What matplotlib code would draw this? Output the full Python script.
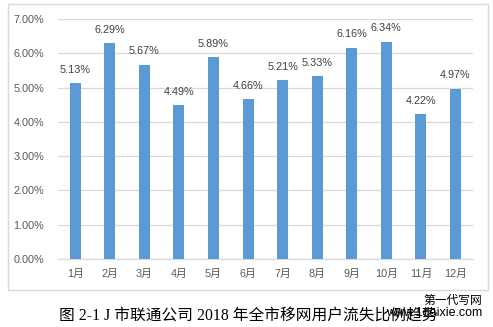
import matplotlib
matplotlib.use("Agg")
import matplotlib.pyplot as plt
from matplotlib.patches import Rectangle
from matplotlib.ticker import FuncFormatter

months = ["1月", "2月", "3月", "4月", "5月", "6月", "7月", "8月", "9月", "10月", "11月", "12月"]
churn_rate = [5.13, 6.29, 5.67, 4.49, 5.89, 4.66, 5.21, 5.33, 6.16, 6.34, 4.22, 4.97]
y_ticks = [0, 1, 2, 3, 4, 5, 6, 7]
caption = "图 2-1 J 市联通公司 2018 年全市移网用户流失比例趋势"

plt.rcParams['font.family'] = ['Liberation Sans', 'Noto Sans CJK SC']

fig = plt.figure(figsize=(4.93, 3.27), dpi=100)
fig.patch.set_facecolor("white")

# outer chart frame
fig.patches.append(Rectangle((8 / 493, 1 - 290 / 327), 480 / 493, 286 / 327,
                             transform=fig.transFigure, fill=False,
                             edgecolor="#d9d9d9", linewidth=1.0))

ax = fig.add_axes([58 / 493, 1 - 259 / 327, 414.7 / 493, 240 / 327])
x = range(len(months))
bars = ax.bar(x, churn_rate, width=0.32, color="#5b9bd5", zorder=3)

ax.set_xlim(-0.5, len(months) - 0.5)
ax.set_ylim(0, 7)
ax.set_yticks(y_ticks)
ax.yaxis.set_major_formatter(FuncFormatter(lambda v, p: f"{v:.2f}%"))
ax.set_xticks(list(x))
ax.set_xticklabels(months)
ax.tick_params(axis="both", length=0, colors="#595959", labelsize=7.8)
ax.tick_params(axis="y", pad=10)
ax.tick_params(axis="x", pad=7)
ax.grid(axis="y", color="#d9d9d9", linewidth=0.9, zorder=0)
for side in ["top", "right", "left"]:
    ax.spines[side].set_visible(False)
ax.spines["bottom"].set_color("#d9d9d9")
ax.spines["bottom"].set_linewidth(0.9)

for rect, v in zip(bars, churn_rate):
    ax.annotate(f"{v:.2f}%", (rect.get_x() + rect.get_width() / 2, v),
                xytext=(0, 6), textcoords="offset points",
                ha="center", va="bottom", fontsize=7.8, color="#404040")

fig.text(248 / 493, 1 - 317 / 327, caption, ha="center", va="center",
         fontsize=11.3, color="black",
         family=['Liberation Serif', 'Noto Sans CJK SC'])

fig.text(482 / 493, 1 - 300 / 327, "第一代写网", ha="right", va="center",
         fontsize=8.5, color="black", family=['Noto Sans CJK SC'])
fig.text(482 / 493, 1 - 313 / 327, "www.1daixie.com", ha="right", va="center",
         fontsize=9, color="black")

fig.savefig("out.png", dpi=100)
